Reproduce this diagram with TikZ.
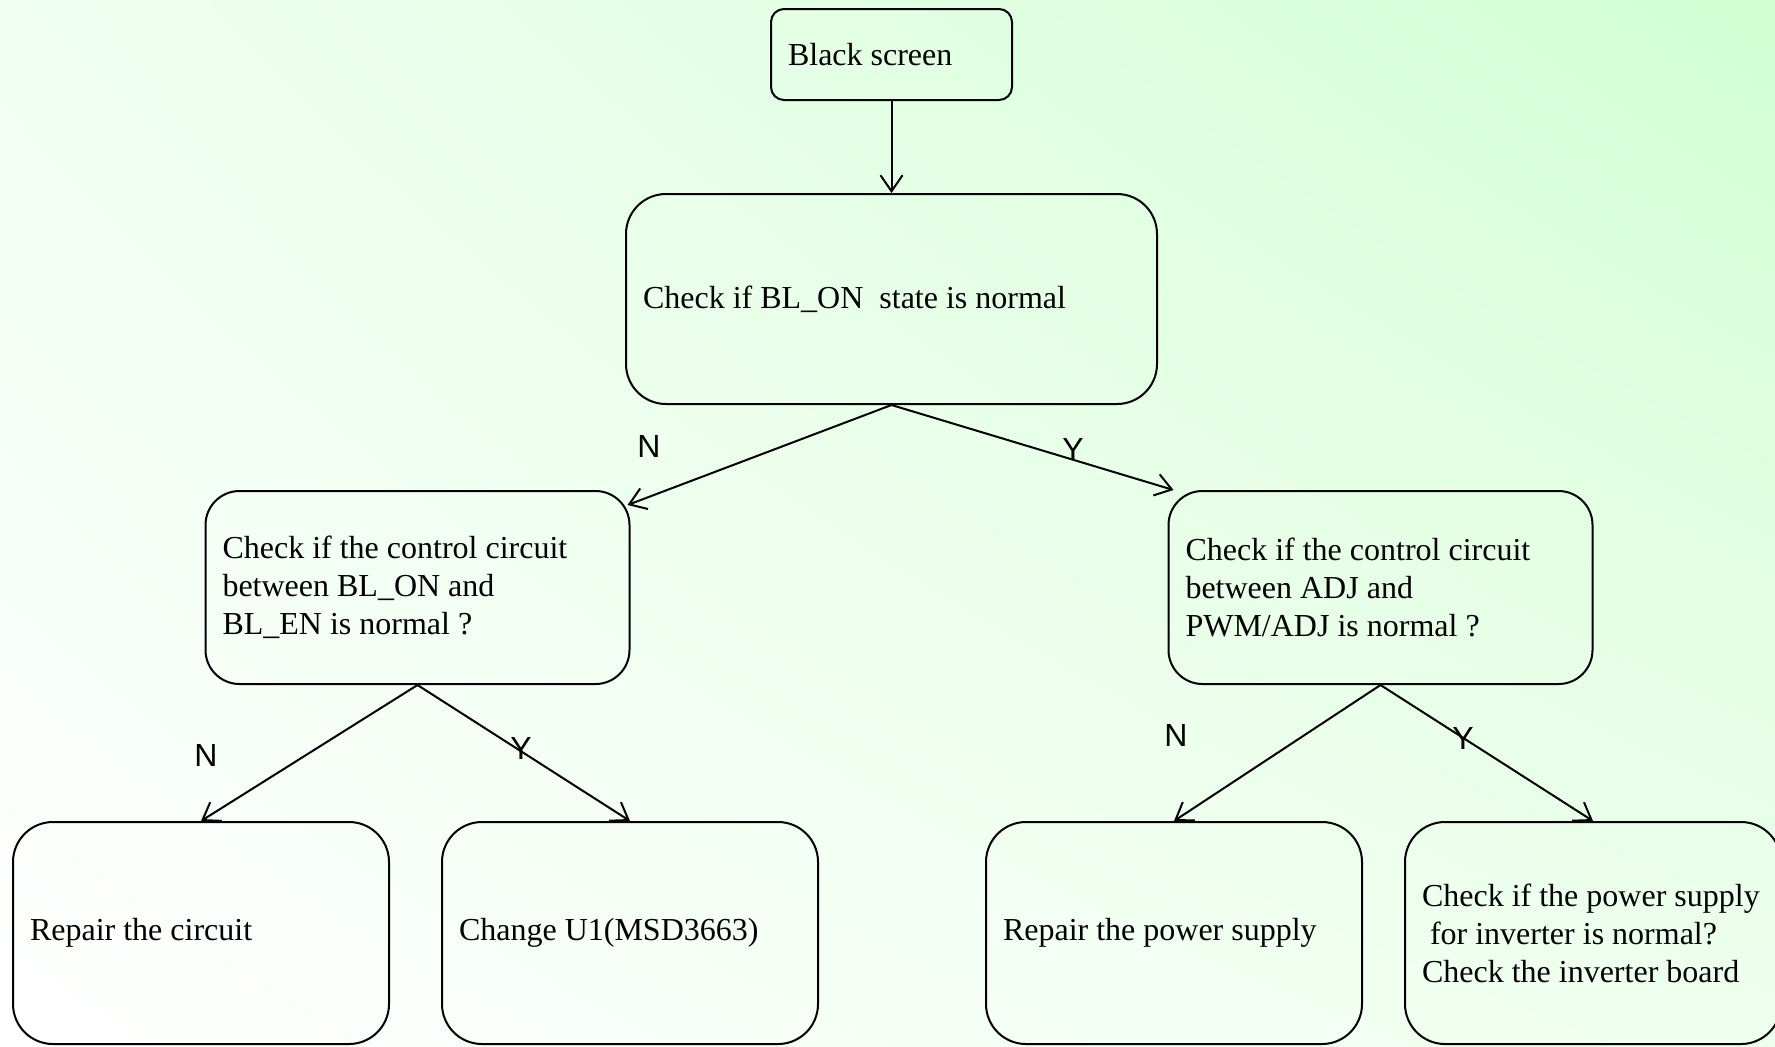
\documentclass[tikz,border=0pt]{standalone}
\usepackage{fontspec}
\setmainfont{Liberation Serif}
\newfontfamily\lblfont{Liberation Sans}
\usetikzlibrary{arrows.meta,shadings}
\definecolor{bgtl}{RGB}{240,255,242}
\definecolor{bgtr}{RGB}{210,255,210}
\definecolor{bgbr}{RGB}{238,255,238}

\begin{document}
\begin{tikzpicture}[x=0.5pt, y=-0.5pt, line width=1pt,
  every node/.style={font={\fontsize{16}{19}\selectfont}},
  box/.style={draw=black, rectangle, rounded corners=20pt, align=flush left, inner xsep=8.5pt, inner ysep=0pt},
  midbox/.style={box, rounded corners=17pt, text width=195pt, minimum height=96.5pt},
  endbox/.style={box, text width=171pt, minimum height=111pt},
  yn/.style={font={\fontsize{16}{18}\lblfont}},
  link/.style={draw=black, -{Straight Barb[length=8pt,width=11pt]}}]
\useasboundingbox (0,0) rectangle (1775,1046);
\shade[upper left=bgtl, upper right=bgtr, lower left=white, lower right=bgbr] (0,0) rectangle (1775,1046);

\node[box, rounded corners=6.5pt, text width=103.5pt, minimum height=45.5pt] (blk) at (891.5,54.5) {Black screen};
\node[box, text width=248.5pt, minimum height=105pt] (blon) at (891.5,299) {Check if BL\_ON\ \ state is normal};
\node[midbox] (ctlen) at (417.5,587.5) {Check if the control circuit\\between BL\_ON and\\BL\_EN is normal ?};
\node[midbox] (ctladj) at (1380.5,587.5) {Check if the control circuit\\between ADJ and\\PWM/ADJ is normal ?};
\node[endbox] (fixckt) at (201,933) {Repair the circuit};
\node[endbox] (chgu1) at (630,933) {Change U1(MSD3663)};
\node[endbox] (fixpwr) at (1174,933) {Repair the power supply};
\node[endbox] (chkinv) at (1593,933) {Check if the power supply\\\hspace*{.25em}for inverter is normal?\\Check the inverter board};

\draw[link] (blk) -- (blon);
\draw[link] (blon.south) -- ([shift={(-3,15)}]ctlen.north east);
\draw[link] (blon.south) -- ([xshift=3pt]ctladj.north west);
\draw[link] (ctlen.south) -- (fixckt.north);
\draw[link] (ctlen.south) -- (chgu1.north);
\draw[link] (ctladj.south) -- (fixpwr.north);
\draw[link] (ctladj.south) -- (chkinv.north);

\node[yn] (n1) at (649,446) {N};
\node[yn] (y1) at (1073,449) {Y};
\node[yn] (n2) at (206,755) {N};
\node[yn] (y2) at (521,748) {Y};
\node[yn] (n3) at (1176,735) {N};
\node[yn] (y3) at (1463,738) {Y};
\end{tikzpicture}
\end{document}
